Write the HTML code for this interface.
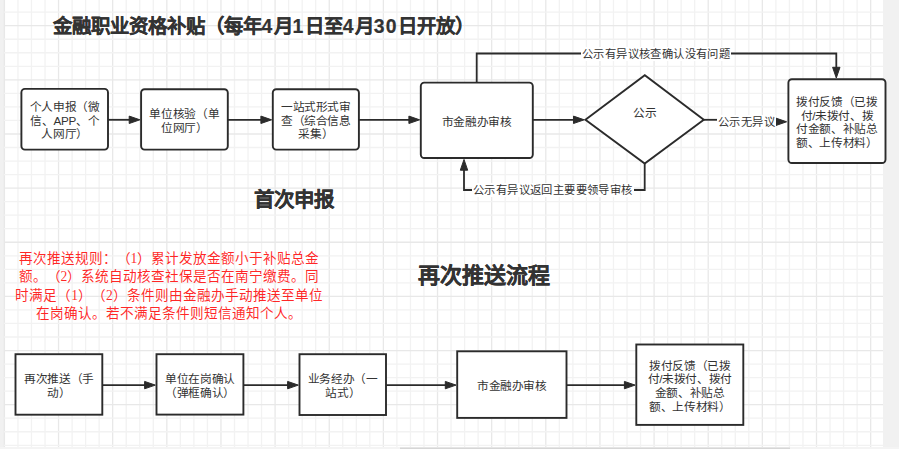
<!DOCTYPE html>
<html lang="zh-CN"><head><meta charset="utf-8">
<style>
html,body{margin:0;padding:0;width:899px;height:449px;overflow:hidden;background:#f1f1f1}
#c{position:relative;width:899px;height:449px;overflow:hidden}
svg{position:absolute;left:0;top:0}
.t{position:absolute;letter-spacing:-0.35px;display:flex;align-items:center;justify-content:center;text-align:center;font-family:"Liberation Sans",sans-serif;font-size:11.7px;line-height:13.65px;color:#333;text-spacing-trim:space-all}
.t span{position:relative;top:1.2px}
.lb{position:absolute;letter-spacing:0.4px;font-family:"Liberation Sans",sans-serif;font-size:11.3px;line-height:14px;color:#333;background:#fff;white-space:nowrap;padding:0 1px;text-spacing-trim:space-all}
.h i{font-style:normal;letter-spacing:1.3px}
.h{position:absolute;-webkit-text-stroke:0.2px #333;font-family:"Liberation Sans",sans-serif;font-weight:bold;color:#333;white-space:nowrap;line-height:1.2;text-spacing-trim:space-all}
.red{position:absolute;text-spacing-trim:space-all;font-family:"Liberation Serif",serif;font-size:13.6px;line-height:18.3px;color:rgba(255,0,0,0.85);text-align:center}
</style></head>
<body>
<div id="c">
<svg width="899" height="449">
<rect x="4" y="0" width="879" height="447" fill="#fff"/>
<g>
<line x1="4.40" y1="0" x2="4.40" y2="447" stroke="#e8e8e8" stroke-width="1.3"/>
<line x1="17.94" y1="0" x2="17.94" y2="447" stroke="#f2f2f2" stroke-width="1.3"/>
<line x1="31.47" y1="0" x2="31.47" y2="447" stroke="#f2f2f2" stroke-width="1.3"/>
<line x1="45.01" y1="0" x2="45.01" y2="447" stroke="#f2f2f2" stroke-width="1.3"/>
<line x1="58.54" y1="0" x2="58.54" y2="447" stroke="#e8e8e8" stroke-width="1.3"/>
<line x1="72.08" y1="0" x2="72.08" y2="447" stroke="#f2f2f2" stroke-width="1.3"/>
<line x1="85.61" y1="0" x2="85.61" y2="447" stroke="#f2f2f2" stroke-width="1.3"/>
<line x1="99.15" y1="0" x2="99.15" y2="447" stroke="#f2f2f2" stroke-width="1.3"/>
<line x1="112.68" y1="0" x2="112.68" y2="447" stroke="#e8e8e8" stroke-width="1.3"/>
<line x1="126.22" y1="0" x2="126.22" y2="447" stroke="#f2f2f2" stroke-width="1.3"/>
<line x1="139.75" y1="0" x2="139.75" y2="447" stroke="#f2f2f2" stroke-width="1.3"/>
<line x1="153.28" y1="0" x2="153.28" y2="447" stroke="#f2f2f2" stroke-width="1.3"/>
<line x1="166.82" y1="0" x2="166.82" y2="447" stroke="#e8e8e8" stroke-width="1.3"/>
<line x1="180.36" y1="0" x2="180.36" y2="447" stroke="#f2f2f2" stroke-width="1.3"/>
<line x1="193.89" y1="0" x2="193.89" y2="447" stroke="#f2f2f2" stroke-width="1.3"/>
<line x1="207.43" y1="0" x2="207.43" y2="447" stroke="#f2f2f2" stroke-width="1.3"/>
<line x1="220.96" y1="0" x2="220.96" y2="447" stroke="#e8e8e8" stroke-width="1.3"/>
<line x1="234.50" y1="0" x2="234.50" y2="447" stroke="#f2f2f2" stroke-width="1.3"/>
<line x1="248.03" y1="0" x2="248.03" y2="447" stroke="#f2f2f2" stroke-width="1.3"/>
<line x1="261.56" y1="0" x2="261.56" y2="447" stroke="#f2f2f2" stroke-width="1.3"/>
<line x1="275.10" y1="0" x2="275.10" y2="447" stroke="#e8e8e8" stroke-width="1.3"/>
<line x1="288.63" y1="0" x2="288.63" y2="447" stroke="#f2f2f2" stroke-width="1.3"/>
<line x1="302.17" y1="0" x2="302.17" y2="447" stroke="#f2f2f2" stroke-width="1.3"/>
<line x1="315.70" y1="0" x2="315.70" y2="447" stroke="#f2f2f2" stroke-width="1.3"/>
<line x1="329.24" y1="0" x2="329.24" y2="447" stroke="#e8e8e8" stroke-width="1.3"/>
<line x1="342.77" y1="0" x2="342.77" y2="447" stroke="#f2f2f2" stroke-width="1.3"/>
<line x1="356.31" y1="0" x2="356.31" y2="447" stroke="#f2f2f2" stroke-width="1.3"/>
<line x1="369.84" y1="0" x2="369.84" y2="447" stroke="#f2f2f2" stroke-width="1.3"/>
<line x1="383.38" y1="0" x2="383.38" y2="447" stroke="#e8e8e8" stroke-width="1.3"/>
<line x1="396.91" y1="0" x2="396.91" y2="447" stroke="#f2f2f2" stroke-width="1.3"/>
<line x1="410.45" y1="0" x2="410.45" y2="447" stroke="#f2f2f2" stroke-width="1.3"/>
<line x1="423.98" y1="0" x2="423.98" y2="447" stroke="#f2f2f2" stroke-width="1.3"/>
<line x1="437.52" y1="0" x2="437.52" y2="447" stroke="#e8e8e8" stroke-width="1.3"/>
<line x1="451.06" y1="0" x2="451.06" y2="447" stroke="#f2f2f2" stroke-width="1.3"/>
<line x1="464.59" y1="0" x2="464.59" y2="447" stroke="#f2f2f2" stroke-width="1.3"/>
<line x1="478.12" y1="0" x2="478.12" y2="447" stroke="#f2f2f2" stroke-width="1.3"/>
<line x1="491.66" y1="0" x2="491.66" y2="447" stroke="#e8e8e8" stroke-width="1.3"/>
<line x1="505.19" y1="0" x2="505.19" y2="447" stroke="#f2f2f2" stroke-width="1.3"/>
<line x1="518.73" y1="0" x2="518.73" y2="447" stroke="#f2f2f2" stroke-width="1.3"/>
<line x1="532.26" y1="0" x2="532.26" y2="447" stroke="#f2f2f2" stroke-width="1.3"/>
<line x1="545.80" y1="0" x2="545.80" y2="447" stroke="#e8e8e8" stroke-width="1.3"/>
<line x1="559.34" y1="0" x2="559.34" y2="447" stroke="#f2f2f2" stroke-width="1.3"/>
<line x1="572.87" y1="0" x2="572.87" y2="447" stroke="#f2f2f2" stroke-width="1.3"/>
<line x1="586.40" y1="0" x2="586.40" y2="447" stroke="#f2f2f2" stroke-width="1.3"/>
<line x1="599.94" y1="0" x2="599.94" y2="447" stroke="#e8e8e8" stroke-width="1.3"/>
<line x1="613.48" y1="0" x2="613.48" y2="447" stroke="#f2f2f2" stroke-width="1.3"/>
<line x1="627.01" y1="0" x2="627.01" y2="447" stroke="#f2f2f2" stroke-width="1.3"/>
<line x1="640.54" y1="0" x2="640.54" y2="447" stroke="#f2f2f2" stroke-width="1.3"/>
<line x1="654.08" y1="0" x2="654.08" y2="447" stroke="#e8e8e8" stroke-width="1.3"/>
<line x1="667.62" y1="0" x2="667.62" y2="447" stroke="#f2f2f2" stroke-width="1.3"/>
<line x1="681.15" y1="0" x2="681.15" y2="447" stroke="#f2f2f2" stroke-width="1.3"/>
<line x1="694.68" y1="0" x2="694.68" y2="447" stroke="#f2f2f2" stroke-width="1.3"/>
<line x1="708.22" y1="0" x2="708.22" y2="447" stroke="#e8e8e8" stroke-width="1.3"/>
<line x1="721.75" y1="0" x2="721.75" y2="447" stroke="#f2f2f2" stroke-width="1.3"/>
<line x1="735.29" y1="0" x2="735.29" y2="447" stroke="#f2f2f2" stroke-width="1.3"/>
<line x1="748.82" y1="0" x2="748.82" y2="447" stroke="#f2f2f2" stroke-width="1.3"/>
<line x1="762.36" y1="0" x2="762.36" y2="447" stroke="#e8e8e8" stroke-width="1.3"/>
<line x1="775.89" y1="0" x2="775.89" y2="447" stroke="#f2f2f2" stroke-width="1.3"/>
<line x1="789.43" y1="0" x2="789.43" y2="447" stroke="#f2f2f2" stroke-width="1.3"/>
<line x1="802.97" y1="0" x2="802.97" y2="447" stroke="#f2f2f2" stroke-width="1.3"/>
<line x1="816.50" y1="0" x2="816.50" y2="447" stroke="#e8e8e8" stroke-width="1.3"/>
<line x1="830.03" y1="0" x2="830.03" y2="447" stroke="#f2f2f2" stroke-width="1.3"/>
<line x1="843.57" y1="0" x2="843.57" y2="447" stroke="#f2f2f2" stroke-width="1.3"/>
<line x1="857.11" y1="0" x2="857.11" y2="447" stroke="#f2f2f2" stroke-width="1.3"/>
<line x1="870.64" y1="0" x2="870.64" y2="447" stroke="#e8e8e8" stroke-width="1.3"/>
<line x1="4" y1="12.16" x2="883" y2="12.16" stroke="#f2f2f2" stroke-width="1.3"/>
<line x1="4" y1="25.70" x2="883" y2="25.70" stroke="#e8e8e8" stroke-width="1.3"/>
<line x1="4" y1="39.23" x2="883" y2="39.23" stroke="#f2f2f2" stroke-width="1.3"/>
<line x1="4" y1="52.77" x2="883" y2="52.77" stroke="#f2f2f2" stroke-width="1.3"/>
<line x1="4" y1="66.31" x2="883" y2="66.31" stroke="#f2f2f2" stroke-width="1.3"/>
<line x1="4" y1="79.84" x2="883" y2="79.84" stroke="#e8e8e8" stroke-width="1.3"/>
<line x1="4" y1="93.38" x2="883" y2="93.38" stroke="#f2f2f2" stroke-width="1.3"/>
<line x1="4" y1="106.91" x2="883" y2="106.91" stroke="#f2f2f2" stroke-width="1.3"/>
<line x1="4" y1="120.45" x2="883" y2="120.45" stroke="#f2f2f2" stroke-width="1.3"/>
<line x1="4" y1="133.98" x2="883" y2="133.98" stroke="#e8e8e8" stroke-width="1.3"/>
<line x1="4" y1="147.51" x2="883" y2="147.51" stroke="#f2f2f2" stroke-width="1.3"/>
<line x1="4" y1="161.05" x2="883" y2="161.05" stroke="#f2f2f2" stroke-width="1.3"/>
<line x1="4" y1="174.58" x2="883" y2="174.58" stroke="#f2f2f2" stroke-width="1.3"/>
<line x1="4" y1="188.12" x2="883" y2="188.12" stroke="#e8e8e8" stroke-width="1.3"/>
<line x1="4" y1="201.66" x2="883" y2="201.66" stroke="#f2f2f2" stroke-width="1.3"/>
<line x1="4" y1="215.19" x2="883" y2="215.19" stroke="#f2f2f2" stroke-width="1.3"/>
<line x1="4" y1="228.72" x2="883" y2="228.72" stroke="#f2f2f2" stroke-width="1.3"/>
<line x1="4" y1="242.26" x2="883" y2="242.26" stroke="#e8e8e8" stroke-width="1.3"/>
<line x1="4" y1="255.79" x2="883" y2="255.79" stroke="#f2f2f2" stroke-width="1.3"/>
<line x1="4" y1="269.33" x2="883" y2="269.33" stroke="#f2f2f2" stroke-width="1.3"/>
<line x1="4" y1="282.87" x2="883" y2="282.87" stroke="#f2f2f2" stroke-width="1.3"/>
<line x1="4" y1="296.40" x2="883" y2="296.40" stroke="#e8e8e8" stroke-width="1.3"/>
<line x1="4" y1="309.94" x2="883" y2="309.94" stroke="#f2f2f2" stroke-width="1.3"/>
<line x1="4" y1="323.47" x2="883" y2="323.47" stroke="#f2f2f2" stroke-width="1.3"/>
<line x1="4" y1="337.00" x2="883" y2="337.00" stroke="#f2f2f2" stroke-width="1.3"/>
<line x1="4" y1="350.54" x2="883" y2="350.54" stroke="#e8e8e8" stroke-width="1.3"/>
<line x1="4" y1="364.07" x2="883" y2="364.07" stroke="#f2f2f2" stroke-width="1.3"/>
<line x1="4" y1="377.61" x2="883" y2="377.61" stroke="#f2f2f2" stroke-width="1.3"/>
<line x1="4" y1="391.14" x2="883" y2="391.14" stroke="#f2f2f2" stroke-width="1.3"/>
<line x1="4" y1="404.68" x2="883" y2="404.68" stroke="#e8e8e8" stroke-width="1.3"/>
<line x1="4" y1="418.21" x2="883" y2="418.21" stroke="#f2f2f2" stroke-width="1.3"/>
<line x1="4" y1="431.75" x2="883" y2="431.75" stroke="#f2f2f2" stroke-width="1.3"/>
<line x1="4" y1="445.28" x2="883" y2="445.28" stroke="#f2f2f2" stroke-width="1.3"/>
</g>
<rect x="0" y="447" width="899" height="2" fill="#f4f4f4"/>
<rect x="400" y="447.5" width="390" height="1.5" fill="#d6d6d6"/>
<rect x="21.4" y="88.9" width="86.60" height="60.70" rx="3.5" fill="#fff" stroke="#2b2b2b" stroke-width="1.9"/>
<rect x="141.1" y="89.2" width="86.70" height="60.40" rx="3.5" fill="#fff" stroke="#2b2b2b" stroke-width="1.9"/>
<rect x="272.8" y="89.2" width="86.10" height="60.40" rx="3.5" fill="#fff" stroke="#2b2b2b" stroke-width="1.9"/>
<rect x="420.8" y="82.6" width="112.00" height="75.40" rx="3.5" fill="#fff" stroke="#2b2b2b" stroke-width="1.9"/>
<rect x="788.4" y="79.2" width="97.10" height="83.80" rx="3.5" fill="#fff" stroke="#2b2b2b" stroke-width="1.9"/>
<path d="M585.4 119.7 L644.8 75.3 L703.8 119.7 L644.7 163.6 Z" fill="#fff" stroke="#2b2b2b" stroke-width="1.9"/>
<path d="M108 119.8 L133.1 119.8" fill="none" stroke="#2b2b2b" stroke-width="1.8"/>
<path d="M139.90 119.80 L129.20 116.10 L129.20 123.50 Z" fill="#2b2b2b" stroke="#2b2b2b" stroke-width="1"/>
<path d="M227.8 119.8 L264.8 119.8" fill="none" stroke="#2b2b2b" stroke-width="1.8"/>
<path d="M271.60 119.80 L260.90 116.10 L260.90 123.50 Z" fill="#2b2b2b" stroke="#2b2b2b" stroke-width="1"/>
<path d="M358.9 119.8 L412.8 119.8" fill="none" stroke="#2b2b2b" stroke-width="1.8"/>
<path d="M419.60 119.80 L408.90 116.10 L408.90 123.50 Z" fill="#2b2b2b" stroke="#2b2b2b" stroke-width="1"/>
<path d="M532.8 119.8 L577.4 119.8" fill="none" stroke="#2b2b2b" stroke-width="1.8"/>
<path d="M584.20 119.80 L573.50 116.10 L573.50 123.50 Z" fill="#2b2b2b" stroke="#2b2b2b" stroke-width="1"/>
<path d="M703.6 119.8 L717 119.8" fill="none" stroke="#2b2b2b" stroke-width="1.8"/>
<path d="M786.60 121.80 L775.90 118.10 L775.90 125.50 Z" fill="#2b2b2b" stroke="#2b2b2b" stroke-width="1"/>
<path d="M476.7 82.6 L476.7 53.5 L836.3 53.5 L836.3 70" fill="none" stroke="#2b2b2b" stroke-width="1.8"/>
<path d="M836.30 78.00 L832.60 67.30 L840.00 67.30 Z" fill="#2b2b2b" stroke="#2b2b2b" stroke-width="1"/>
<path d="M644.7 163.4 L644.7 190 L464 190 L464 165" fill="none" stroke="#2b2b2b" stroke-width="1.8"/>
<path d="M464.00 159.50 L460.30 170.20 L467.70 170.20 Z" fill="#2b2b2b" stroke="#2b2b2b" stroke-width="1"/>
<rect x="15.5" y="354.2" width="86.80" height="60.50" rx="0" fill="#fff" stroke="#2b2b2b" stroke-width="1.9"/>
<rect x="156.5" y="354.2" width="86.90" height="60.40" rx="0" fill="#fff" stroke="#2b2b2b" stroke-width="1.9"/>
<rect x="299.5" y="354.2" width="86.50" height="60.80" rx="0" fill="#fff" stroke="#2b2b2b" stroke-width="1.9"/>
<rect x="457.2" y="351.3" width="109.30" height="66.60" rx="0" fill="#fff" stroke="#2b2b2b" stroke-width="1.9"/>
<rect x="636.3" y="344.5" width="107.00" height="80.40" rx="0" fill="#fff" stroke="#2b2b2b" stroke-width="1.9"/>
<path d="M102.3 385.1 L148.5 385.1" fill="none" stroke="#2b2b2b" stroke-width="1.8"/>
<path d="M155.30 385.10 L144.60 381.40 L144.60 388.80 Z" fill="#2b2b2b" stroke="#2b2b2b" stroke-width="1"/>
<path d="M243.4 385.1 L291.5 385.1" fill="none" stroke="#2b2b2b" stroke-width="1.8"/>
<path d="M298.30 385.10 L287.60 381.40 L287.60 388.80 Z" fill="#2b2b2b" stroke="#2b2b2b" stroke-width="1"/>
<path d="M386 385.1 L449.2 385.1" fill="none" stroke="#2b2b2b" stroke-width="1.8"/>
<path d="M456.00 385.10 L445.30 381.40 L445.30 388.80 Z" fill="#2b2b2b" stroke="#2b2b2b" stroke-width="1"/>
<path d="M566.5 385.1 L628.3 385.1" fill="none" stroke="#2b2b2b" stroke-width="1.8"/>
<path d="M635.10 385.10 L624.40 381.40 L624.40 388.80 Z" fill="#2b2b2b" stroke="#2b2b2b" stroke-width="1"/>
</svg>
<div class="t" style="left:21.4px;top:88.9px;width:86.60px;height:60.70px;"><span>个人申报（微<br>信、APP、个<br>人网厅）</span></div>
<div class="t" style="left:141.1px;top:89.2px;width:86.70px;height:60.40px;"><span>单位核验（单<br>位网厅）</span></div>
<div class="t" style="left:272.8px;top:89.2px;width:86.10px;height:60.40px;"><span>一站式形式审<br>查（综合信息<br>采集）</span></div>
<div class="t" style="left:420.8px;top:82.6px;width:112.00px;height:75.40px;"><span>市金融办审核</span></div>
<div class="t" style="left:585.4px;top:75.3px;width:118.40px;height:72.50px;"><span>公示</span></div>
<div class="t" style="left:788.4px;top:79.2px;width:97.10px;height:83.80px;"><span>拨付反馈（已拨<br>付/未拨付、拨<br>付金额、补贴总<br>额、上传材料）</span></div>
<div class="t" style="left:15.5px;top:354.2px;width:86.80px;height:60.50px;"><span>再次推送（手<br>动）</span></div>
<div class="t" style="left:156.5px;top:354.2px;width:86.90px;height:60.40px;"><span>单位在岗确认<br>（弹框确认）</span></div>
<div class="t" style="left:299.5px;top:354.2px;width:86.50px;height:60.80px;"><span>业务经办（一<br>站式）</span></div>
<div class="t" style="left:457.2px;top:351.3px;width:109.30px;height:66.60px;"><span>市金融办审核</span></div>
<div class="t" style="left:636.3px;top:344.5px;width:107.00px;height:80.40px;"><span>拨付反馈（已拨<br>付/未拨付、拨付<br>金额、补贴总<br>额、上传材料）</span></div>
<div class="lb" style="left:581px;top:47px;">公示有异议核查确认没有问题</div>
<div class="lb" style="left:472px;top:183px;">公示有异议返回主要要领导审核</div>
<div class="lb" style="left:717px;top:114.5px;">公示无异议</div>
<div class="h" style="left:52.5px;top:14.6px;font-size:19.4px;">金融职业资格补贴（每年<i>4</i>月<i>1</i>日至<i>4</i>月<i>30</i>日开放）</div>
<div class="h" style="left:254px;top:188px;font-size:20.5px;">首次申报</div>
<div class="h" style="left:418px;top:262.5px;font-size:22px;">再次推送流程</div>
<div class="red" style="left:10px;top:250.2px;width:318px;">再次推送规则：（1）累计发放金额小于补贴总金<br>额。（2）系统自动核查社保是否在南宁缴费。同<br>时满足（1）（2）条件则由金融办手动推送至单位<br>在岗确认。若不满足条件则短信通知个人。</div>
</div>
</body></html>
